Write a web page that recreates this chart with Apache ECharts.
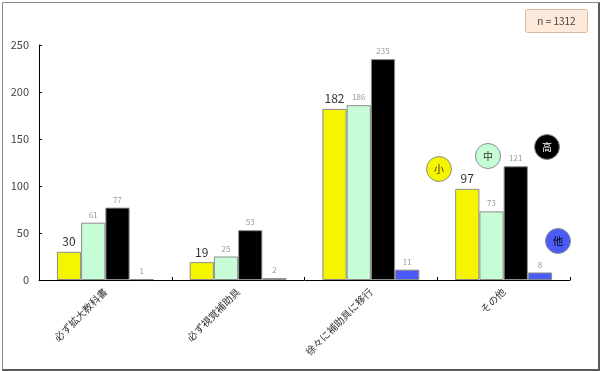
<!DOCTYPE html>
<html>
<head>
<meta charset="utf-8">
<script src="https://cdn.jsdelivr.net/npm/echarts@6/dist/echarts.min.js"></script>
<style>
  html, body { margin: 0; padding: 0; background: #fff; }
  #main { width: 600px; height: 371px; }
</style>
</head>
<body>
<div id="main"></div>
<script>
// 項目
const categories = ['必ず拡大教科書', '必ず視覚補助具', '徐々に補助具に移行', 'その他'];
// 学年ごとの人数
const shoValues = [30, 19, 182, 97];
const chuValues = [61, 25, 186, 73];
const koValues = [77, 53, 235, 121];
const taValues = [1, 2, 11, 8];
const seriesNames = ['小', '中', '高', '他'];
const yTicks = [0, 50, 100, 150, 200, 250];
const totalN = 1312;

const chart = echarts.init(document.getElementById('main'));
const font = '"Noto Sans CJK JP", sans-serif';

const smallLabel = { show: true, position: 'top', fontSize: 8, color: '#9a9a9a', fontFamily: font, distance: 4 };

function bar(name, data, color, label) {
  return {
    name: name,
    type: 'bar',
    data: data,
    barGap: '0%',
    barCategoryGap: '27%',
    itemStyle: { color: color, borderColor: '#8c8c8c', borderWidth: 1 },
    label: label
  };
}

// 凡例の丸
function bubble(x, y, text, fill, textColor) {
  return {
    type: 'group',
    left: x - 13,
    top: y - 13,
    children: [
      { type: 'circle', shape: { cx: 13, cy: 13, r: 12.5 }, style: { fill: fill, stroke: '#8c8c8c', lineWidth: 1 } },
      { type: 'text', style: { text: text, x: 13, y: 13, align: 'center', verticalAlign: 'middle', fill: textColor, font: '10px ' + font } }
    ]
  };
}

const option = {
  animation: false,
  grid: { left: 39, right: 30, top: 45, bottom: 91 },
  xAxis: {
    type: 'category',
    data: categories,
    axisLine: { lineStyle: { color: '#000', width: 1 } },
    axisTick: { show: true, inside: true, length: 3, lineStyle: { color: '#000' } },
    axisLabel: { rotate: 45, fontSize: 10, color: '#333', fontFamily: font, margin: 10 }
  },
  yAxis: {
    type: 'value',
    min: 0,
    max: yTicks[yTicks.length - 1],
    interval: 50,
    splitLine: { show: false },
    axisLine: { show: true, lineStyle: { color: '#000', width: 1 } },
    axisTick: { show: true, inside: true, length: 3, lineStyle: { color: '#000' } },
    axisLabel: { fontSize: 11, color: '#444', fontFamily: font, margin: 10 }
  },
  series: [
    bar(seriesNames[0], shoValues, '#f5f500', { show: true, position: 'top', fontSize: 12, color: '#333', fontFamily: font, distance: 4 }),
    bar(seriesNames[1], chuValues, '#c6fdd6', smallLabel),
    bar(seriesNames[2], koValues, '#000000', smallLabel),
    bar(seriesNames[3], taValues, '#4a5cf5', smallLabel)
  ],
  graphic: [
    // 外枠（右と下は影っぽく太め）
    { type: 'rect', left: 0, top: 0, shape: { x: 0.5, y: 0.5, width: 597, height: 368 }, style: { fill: 'none', stroke: '#8a8a8a', lineWidth: 1 }, silent: true },
    { type: 'line', left: 597, top: 0, shape: { x1: 1.5, y1: 0, x2: 1.5, y2: 371 }, style: { stroke: '#5a5a5a', lineWidth: 3 }, silent: true },
    { type: 'line', left: 0, top: 368, shape: { x1: 0, y1: 1.5, x2: 600, y2: 1.5 }, style: { stroke: '#5a5a5a', lineWidth: 3 }, silent: true },
    {
      type: 'group',
      left: 525,
      top: 9,
      children: [
        { type: 'rect', shape: { x: 0, y: 0, width: 62, height: 23, r: 2 }, style: { fill: '#fdeadb', stroke: '#d9b9a0', lineWidth: 1 } },
        { type: 'text', style: { text: 'n = ' + totalN, x: 31, y: 12, align: 'center', verticalAlign: 'middle', fill: '#444', font: '10px ' + font } }
      ]
    },
    bubble(439, 169, seriesNames[0], '#f5f500', '#333'),
    bubble(488, 156, seriesNames[1], '#c6fdd6', '#333'),
    bubble(547, 147, seriesNames[2], '#000000', '#fff'),
    bubble(558, 241, seriesNames[3], '#4a5cf5', '#000')
  ]
};

option && chart.setOption(option);
</script>
</body>
</html>
